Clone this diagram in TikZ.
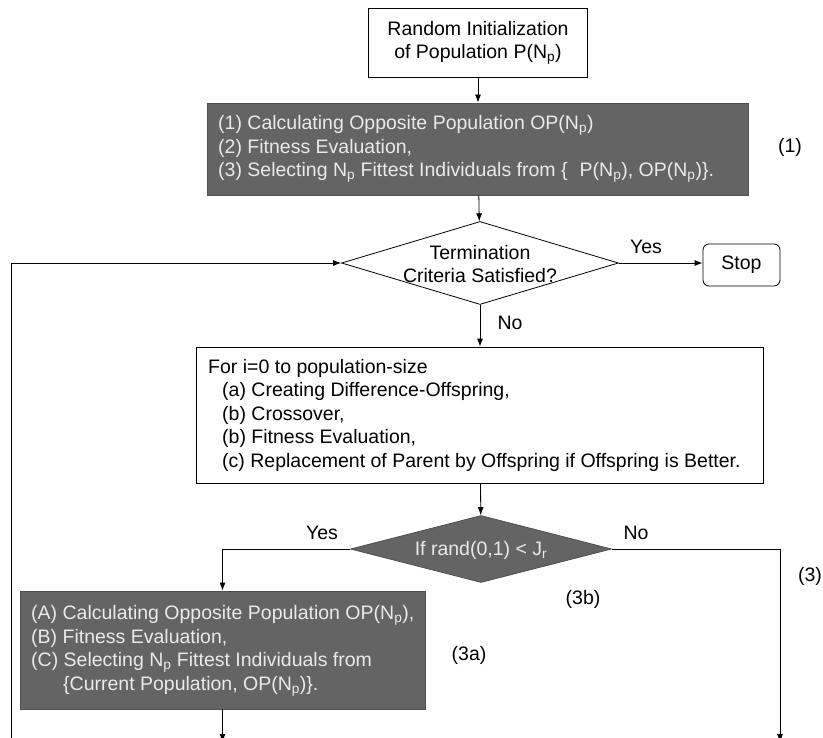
\documentclass[tikz,border=0pt]{standalone}
\usepackage{fontspec}
\setmainfont{Liberation Sans}
\usetikzlibrary{shapes.geometric,arrows.meta}
\definecolor{dgray}{RGB}{100,100,100}
\definecolor{ltext}{RGB}{234,234,234}
\newcommand{\figfont}{\fontsize{19.5}{23.5}\selectfont}
\tikzset{
  box/.style={draw, line width=0.8pt, inner sep=0pt},
  darkbox/.style={box, fill=dgray, draw=dgray!80!black},
  txt/.style={font=\figfont, align=left, inner sep=0pt, anchor=west},
  lbl/.style={font=\figfont, inner sep=0pt},
  dia/.style={shape=diamond, draw, line width=0.8pt, inner sep=0pt},
  arr/.style={-{Latex[length=8pt,width=6pt]}, line width=0.8pt},
}
\begin{document}
\begin{tikzpicture}[x=1pt,y=-1pt]
\useasboundingbox[fill=white] (0,0) rectangle (823,738);

% top box
\node[box, minimum width=219pt, minimum height=69pt, font=\figfont, align=center] (top) at (478,43)
  {Random Initialization\\of Population P(N\textsubscript{p})};

% dark box 1
\node[darkbox, minimum width=541pt, minimum height=92pt] (b1) at (478,149) {};
\node[txt, text=ltext] (b1t) at (218,149)
  {(1) Calculating Opposite Population OP(N\textsubscript{p})\\
   (2) Fitness Evaluation,\\
   (3) Selecting N\textsubscript{p} Fittest Individuals from \{\hspace{12pt}P(N\textsubscript{p}), OP(N\textsubscript{p})\}.};
\node[lbl] (l1) at (790,147) {(1)};

% diamond 1
\node[dia, minimum width=277pt, minimum height=83pt] (d1) at (480,263) {};
\node[lbl, align=center] (d1t) at (480,264) {Termination\\Criteria Satisfied?};

% stop
\node[box, rounded corners=6pt, minimum width=77pt, minimum height=42pt, font=\figfont] (stop) at (741.5,265) {Stop};
\node[lbl] (yes1) at (646,247) {Yes};
\node[lbl] (no1) at (510,323) {No};

% box 2
\node[box, minimum width=567pt, minimum height=136pt] (b2) at (480,415) {};
\node[txt] (b2t) at (208,415)
  {For i=0 to population-size\\
   \hspace*{14pt}(a) Creating Difference-Offspring,\\
   \hspace*{14pt}(b) Crossover,\\
   \hspace*{14pt}(b) Fitness Evaluation,\\
   \hspace*{14pt}(c) Replacement of Parent by Offspring if Offspring is Better.};

% diamond 2
\node[dia, fill=dgray, draw=dgray!80!black, minimum width=261pt, minimum height=67pt] (d2) at (481,549) {};
\node[lbl, text=ltext] (d2t) at (481,550) {If rand(0,1) < J\textsubscript{r}};
\node[lbl] (yes2) at (322,533) {Yes};
\node[lbl] (no2) at (636,533) {No};
\node[lbl] (l3) at (810,576) {(3)};
\node[lbl] (l3b) at (583,599) {(3b)};

% dark box 3
\node[darkbox, minimum width=405pt, minimum height=118pt] (b3) at (222.5,650) {};
\node[txt, text=ltext] (b3t) at (31,651)
  {(A) Calculating Opposite Population OP(N\textsubscript{p}),\\
   (B) Fitness Evaluation,\\
   (C) Selecting N\textsubscript{p} Fittest Individuals from\\
   \hspace*{32pt}\{Current Population, OP(N\textsubscript{p})\}.};
\node[lbl] (l3a) at (469,655) {(3a)};

% free ends
\coordinate (fbS) at (11,746);
\coordinate (rE) at (780,742);
\coordinate (b3E) at (222.5,742);

% connectors
\draw[arr] (top) -- (b1);
\draw[arr] (b1) -- (d1);
\draw[arr] (d1.east) -- (d1.east -| stop.west);
\draw[arr] (d1) -- (b2);
\draw[arr] (fbS) |- (d1.west);
\draw[arr] (b2) -- (d2);
\draw[arr] (d2.west) -| (b3.north);
\draw[arr] (d2.east) -| (rE);
\draw[arr] (b3) -- (b3E);
\end{tikzpicture}
\end{document}
